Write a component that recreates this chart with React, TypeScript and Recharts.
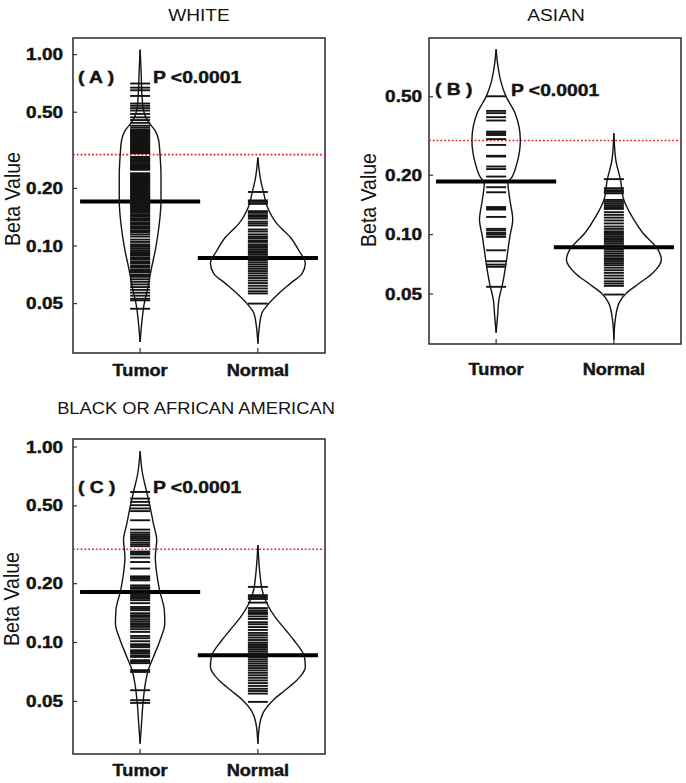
import React from 'react';
import { ComposedChart, XAxis, YAxis, Scatter, ReferenceLine, ReferenceArea } from 'recharts';

const FONT = '"Liberation Sans", Arial, sans-serif';
const INK = '#141414';
const BEAN_SCALE = 0.403; // x-units for a relative density of 1
const MEDIAN_HALF = 0.51;
const X_DOMAIN = [0.43, 2.57];

const categories = ['Tumor', 'Normal'];
const threshold = 0.3;
const ticksWithOne = [0.05, 0.1, 0.2, 0.5, 1];
const ticksNoOne = [0.05, 0.1, 0.2, 0.5];

// ---- WHITE ----
const whiteTumorValues = [
  0.706, 0.672, 0.651, 0.608, 0.555, 0.54, 0.525, 0.51, 0.49, 0.47, 0.455, 0.44, 0.425, 0.415,
  0.405, 0.401, 0.397, 0.392, 0.388, 0.383, 0.379, 0.374, 0.37, 0.365, 0.361, 0.356, 0.352, 0.348,
  0.344, 0.34, 0.336, 0.332, 0.328, 0.324, 0.32, 0.316, 0.312, 0.308, 0.305, 0.292, 0.288, 0.285,
  0.281, 0.278, 0.273, 0.268, 0.265, 0.262, 0.259, 0.256, 0.253, 0.25, 0.24, 0.237, 0.234, 0.231,
  0.228, 0.225, 0.223, 0.22, 0.218, 0.215, 0.213, 0.21, 0.208, 0.205, 0.203, 0.2, 0.198, 0.195,
  0.193, 0.191, 0.189, 0.186, 0.184, 0.182, 0.18, 0.178, 0.176, 0.174, 0.172, 0.17, 0.168, 0.166,
  0.164, 0.162, 0.16, 0.158, 0.156, 0.153, 0.151, 0.149, 0.146, 0.144, 0.142, 0.139, 0.137, 0.136,
  0.133, 0.131, 0.13, 0.127, 0.125, 0.124, 0.121, 0.119, 0.118, 0.115, 0.112, 0.108, 0.105, 0.102,
  0.1, 0.099, 0.097, 0.095, 0.093, 0.091, 0.09, 0.089, 0.087, 0.086, 0.085, 0.083, 0.082, 0.081,
  0.079, 0.078, 0.077, 0.075, 0.074, 0.073, 0.071, 0.07, 0.069, 0.067, 0.065, 0.063, 0.061, 0.059,
  0.057, 0.055, 0.053, 0.052, 0.047,
];
const whiteNormalValues = [
  0.1915, 0.173, 0.17, 0.166, 0.152, 0.149, 0.145, 0.142, 0.139, 0.134, 0.131, 0.128, 0.122, 0.119,
  0.115, 0.112, 0.11, 0.107, 0.105, 0.102, 0.1, 0.098, 0.096, 0.094, 0.092, 0.09, 0.088, 0.086,
  0.084, 0.082, 0.08, 0.078, 0.076, 0.074, 0.072, 0.07, 0.068, 0.066, 0.064, 0.062, 0.06, 0.058,
  0.0565, 0.05,
];
const whiteMedians = [0.171, 0.0866];
const whiteTumorLevels = [1.06, 0.828, 0.612, 0.512, 0.454, 0.427, 0.4, 0.357, 0.298, 0.234, 0.173, 0.128, 0.095, 0.0747, 0.0587, 0.049, 0.0409, 0.0315];
const whiteTumorDensity = [0, 0.02, 0.04, 0.07, 0.15, 0.23, 0.32, 0.39, 0.42, 0.44, 0.44, 0.4, 0.32, 0.23, 0.15, 0.08, 0.04, 0];
const whiteNormalLevels = [0.29, 0.2204, 0.1954, 0.1599, 0.1309, 0.1114, 0.095, 0.0809, 0.0718, 0.0636, 0.0564, 0.05, 0.0443, 0.0377, 0.0309];
const whiteNormalDensity = [0, 0.06, 0.11, 0.2, 0.4, 0.68, 0.86, 1.0, 0.93, 0.68, 0.44, 0.23, 0.08, 0.03, 0];

// ---- ASIAN ----
const asianTumorValues = [
  0.503, 0.424, 0.413, 0.394, 0.379, 0.333, 0.327, 0.32, 0.305, 0.285, 0.251, 0.249, 0.2215, 0.215,
  0.197, 0.174, 0.164, 0.138, 0.136, 0.134, 0.123, 0.107, 0.105, 0.102, 0.1, 0.0974, 0.0833,
  0.0733, 0.0705, 0.0687, 0.0544,
];
const asianNormalValues = [
  0.1912, 0.172, 0.168, 0.165, 0.162, 0.15, 0.147, 0.144, 0.141, 0.138, 0.135, 0.13, 0.126, 0.122,
  0.118, 0.114, 0.11, 0.107, 0.104, 0.102, 0.1, 0.098, 0.096, 0.094, 0.092, 0.09, 0.088, 0.086,
  0.084, 0.082, 0.08, 0.078, 0.076, 0.0745, 0.073, 0.0715, 0.07, 0.068, 0.066, 0.064, 0.062, 0.06,
  0.058, 0.0565, 0.055, 0.0497,
];
const asianMedians = [0.186, 0.0863];
const asianTumorLevels = [0.87, 0.71, 0.585, 0.501, 0.413, 0.302, 0.2305, 0.197, 0.1826, 0.15, 0.119, 0.098, 0.084, 0.0691, 0.057, 0.0469, 0.0386, 0.0318];
const asianTumorDensity = [0, 0.04, 0.11, 0.21, 0.4, 0.51, 0.44, 0.34, 0.25, 0.29, 0.35, 0.29, 0.25, 0.2, 0.14, 0.06, 0.03, 0];
const asianNormalLevels = [0.327, 0.2395, 0.1897, 0.15, 0.1238, 0.102, 0.084, 0.0747, 0.064, 0.057, 0.0507, 0.0451, 0.0372, 0.0294];
const asianNormalDensity = [0, 0.04, 0.14, 0.21, 0.38, 0.61, 0.93, 1.0, 0.82, 0.55, 0.27, 0.11, 0.03, 0];

// ---- BLACK OR AFRICAN AMERICAN ----
const blackTumorValues = [
  0.589, 0.545, 0.524, 0.504, 0.485, 0.47, 0.422, 0.378, 0.365, 0.357, 0.35, 0.347, 0.341, 0.334,
  0.325, 0.318, 0.311, 0.292, 0.287, 0.282, 0.272, 0.258, 0.239, 0.218, 0.215, 0.212, 0.208, 0.196,
  0.192, 0.189, 0.185, 0.178, 0.175, 0.171, 0.168, 0.1646, 0.1589, 0.152, 0.149, 0.1463, 0.1412,
  0.138, 0.1352, 0.1316, 0.1285, 0.1255, 0.123, 0.1202, 0.117, 0.1133, 0.108, 0.1052, 0.1015,
  0.098, 0.0963, 0.0946, 0.0913, 0.0897, 0.0882, 0.086, 0.0844, 0.0812, 0.0798, 0.0784, 0.0722,
  0.0707, 0.057, 0.0507, 0.0491,
];
const blackNormalValues = [
  0.1925, 0.1746, 0.171, 0.167, 0.16, 0.15, 0.146, 0.143, 0.14, 0.136, 0.132, 0.127, 0.124, 0.12,
  0.116, 0.112, 0.109, 0.106, 0.103, 0.1, 0.098, 0.096, 0.094, 0.092, 0.09, 0.088, 0.086, 0.084,
  0.082, 0.08, 0.078, 0.076, 0.074, 0.072, 0.07, 0.068, 0.066, 0.064, 0.062, 0.06, 0.058, 0.0565,
  0.0548, 0.0497,
];
const blackMedians = [0.1815, 0.0861];
const blackTumorLevels = [0.952, 0.732, 0.601, 0.494, 0.406, 0.334, 0.274, 0.2254, 0.185, 0.1463, 0.125, 0.1027, 0.0844, 0.0722, 0.0617, 0.0488, 0.0385, 0.0304];
const blackTumorDensity = [0, 0.05, 0.13, 0.21, 0.28, 0.35, 0.32, 0.35, 0.41, 0.51, 0.52, 0.42, 0.28, 0.17, 0.11, 0.06, 0.03, 0];
const blackNormalLevels = [0.315, 0.2166, 0.185, 0.1583, 0.1352, 0.1156, 0.1027, 0.0844, 0.075, 0.0641, 0.057, 0.0507, 0.045, 0.0385, 0.0304];
const blackNormalDensity = [0, 0.05, 0.09, 0.19, 0.36, 0.59, 0.76, 0.98, 1.0, 0.82, 0.57, 0.32, 0.14, 0.04, 0];

const noMarker = () => <g />;
const beanLine = (p: any) => (
  <line x1={p.cx - 10} x2={p.cx + 10} y1={p.cy} y2={p.cy} stroke={INK} strokeWidth={1.9} />
);

const SText = ({ x, y, text, size, weight = 'normal', anchor = 'middle', sx = 1.16, rotate = false }: any) => (
  <text
    transform={`translate(${x},${y}) scale(${sx},1)${rotate ? ' rotate(-90)' : ''}`}
    textAnchor={anchor}
    dominantBaseline="central"
    fontFamily={FONT}
    fontSize={size}
    fontWeight={weight}
    fill={INK}
    stroke={weight === 'bold' ? INK : 'none'}
    strokeWidth={weight === 'bold' ? 0.45 : 0}
  >
    {text}
  </text>
);

const makeYTick = (gap: number) => (props: any) => {
  const { x, y, payload } = props;
  return (
    <g>
      <line x1={x} x2={x + 4} y1={y} y2={y} stroke="#333" strokeWidth={1.2} />
      <SText x={x - gap} y={y} text={Number(payload.value).toFixed(2)} size={16.5} weight="bold" anchor="end" sx={1.15} />
    </g>
  );
};

const makeXTick = (offset: number) => (props: any) => {
  const { x, y, payload } = props;
  return (
    <g>
      <line x1={x} x2={x} y1={y - 5} y2={y} stroke="#333" strokeWidth={1.2} />
      <SText x={x} y={y + offset} text={categories[payload.value - 1]} size={16.5} weight="bold" sx={1.1} />
    </g>
  );
};

const outline = (levels: number[], dens: number[], center: number, side: number) =>
  levels.map((v, i) => ({ x: center + side * dens[i] * BEAN_SCALE, y: v }));

const points = (values: number[], center: number) => values.map((v) => ({ x: center, y: v }));

interface PanelProps {
  left: number;
  top: number;
  width: number;
  height: number;
  margin: { top: number; right: number; bottom: number; left: number };
  yWidth: number;
  xHeight: number;
  domain: number[];
  ticks: number[];
  tickGap: number;
  labelOffset: number;
  beans: { levels: number[]; density: number[]; values: number[] }[];
  medians: number[];
}

const BeanPanel = (p: PanelProps) => (
  <div style={{ position: 'absolute', left: p.left, top: p.top }}>
    <ComposedChart width={p.width} height={p.height} margin={p.margin}>
      <XAxis
        type="number"
        dataKey="x"
        domain={X_DOMAIN}
        ticks={[1, 2]}
        interval={0}
        allowDataOverflow
        axisLine={false}
        tickLine={false}
        tickSize={0}
        tickMargin={0}
        height={p.xHeight}
        tick={makeXTick(p.labelOffset)}
      />
      <YAxis
        type="number"
        dataKey="y"
        scale="log"
        domain={p.domain}
        ticks={p.ticks}
        interval={0}
        allowDataOverflow
        axisLine={false}
        tickLine={false}
        tickSize={0}
        tickMargin={0}
        width={p.yWidth}
        tick={makeYTick(p.tickGap)}
      />
      <ReferenceArea
        x1={X_DOMAIN[0]}
        x2={X_DOMAIN[1]}
        y1={p.domain[0]}
        y2={p.domain[1]}
        fill="none"
        stroke="#2a2a2a"
        strokeWidth={1.5}
        ifOverflow="visible"
      />
      {p.beans.map((b, i) => [
        <Scatter
          key={`l${i}`}
          data={outline(b.levels, b.density, i + 1, -1)}
          shape={noMarker}
          line={{ stroke: INK, strokeWidth: 1.4 }}
          lineType="joint"
          lineJointType="monotoneY"
          fill="none"
          isAnimationActive={false}
        />,
        <Scatter
          key={`r${i}`}
          data={outline(b.levels, b.density, i + 1, 1)}
          shape={noMarker}
          line={{ stroke: INK, strokeWidth: 1.4 }}
          lineType="joint"
          lineJointType="monotoneY"
          fill="none"
          isAnimationActive={false}
        />,
        <Scatter key={`v${i}`} data={points(b.values, i + 1)} shape={beanLine} isAnimationActive={false} />,
      ])}
      <ReferenceLine y={threshold} stroke="#e3222b" strokeDasharray="1.8 2" strokeWidth={1.6} />
      {p.medians.map((m, i) => (
        <ReferenceLine
          key={`m${i}`}
          segment={[
            { x: i + 1 - MEDIAN_HALF, y: m },
            { x: i + 1 + MEDIAN_HALF, y: m },
          ]}
          stroke="#000"
          strokeWidth={4}
          ifOverflow="visible"
        />
      ))}
    </ComposedChart>
  </div>
);

export default function App() {
  return (
    <div style={{ position: 'absolute', left: 0, top: 0, width: 686, height: 783, background: '#fff' }}>
      <BeanPanel
        left={0}
        top={0}
        width={340}
        height={390}
        margin={{ top: 38, right: 15, bottom: 0, left: 0 }}
        yWidth={73}
        xHeight={37}
        domain={[0.0276, 1.221]}
        ticks={ticksWithOne}
        tickGap={10}
        labelOffset={17}
        beans={[
          { levels: whiteTumorLevels, density: whiteTumorDensity, values: whiteTumorValues },
          { levels: whiteNormalLevels, density: whiteNormalDensity, values: whiteNormalValues },
        ]}
        medians={whiteMedians}
      />
      <BeanPanel
        left={340}
        top={0}
        width={346}
        height={390}
        margin={{ top: 38, right: 5, bottom: 0, left: 0 }}
        yWidth={89}
        xHeight={46}
        domain={[0.0279, 0.993]}
        ticks={ticksNoOne}
        tickGap={7}
        labelOffset={25}
        beans={[
          { levels: asianTumorLevels, density: asianTumorDensity, values: asianTumorValues },
          { levels: asianNormalLevels, density: asianNormalDensity, values: asianNormalValues },
        ]}
        medians={asianMedians}
      />
      <BeanPanel
        left={0}
        top={390}
        width={340}
        height={393}
        margin={{ top: 49, right: 15, bottom: 0, left: 0 }}
        yWidth={73}
        xHeight={29}
        domain={[0.0269, 1.099]}
        ticks={ticksWithOne}
        tickGap={10}
        labelOffset={16}
        beans={[
          { levels: blackTumorLevels, density: blackTumorDensity, values: blackTumorValues },
          { levels: blackNormalLevels, density: blackNormalDensity, values: blackNormalValues },
        ]}
        medians={blackMedians}
      />
      <svg width={686} height={783} style={{ position: 'absolute', left: 0, top: 0, pointerEvents: 'none' }}>
        <SText x={199} y={15} text="WHITE" size={16.5} />
        <SText x={556} y={15} text="ASIAN" size={16.5} />
        <SText x={196} y={408} text="BLACK OR AFRICAN AMERICAN" size={16.5} sx={1.11} />
        <SText x={12} y={199} text="Beta Value" size={19.5} rotate sx={1.12} />
        <SText x={368} y={200} text="Beta Value" size={19.5} rotate sx={1.12} />
        <SText x={11} y={599} text="Beta Value" size={19.5} rotate sx={1.12} />
        <SText x={78} y={77} text="( A )" size={16.5} weight="bold" anchor="start" sx={1.17} />
        <SText x={153} y={77} text="P <0.0001" size={16.5} weight="bold" anchor="start" sx={1.17} />
        <SText x={435} y={89} text="( B )" size={16.5} weight="bold" anchor="start" sx={1.17} />
        <SText x={511} y={90} text="P <0.0001" size={16.5} weight="bold" anchor="start" sx={1.17} />
        <SText x={78} y={487} text="( C )" size={16.5} weight="bold" anchor="start" sx={1.17} />
        <SText x={153} y={487} text="P <0.0001" size={16.5} weight="bold" anchor="start" sx={1.17} />
      </svg>
    </div>
  );
}
